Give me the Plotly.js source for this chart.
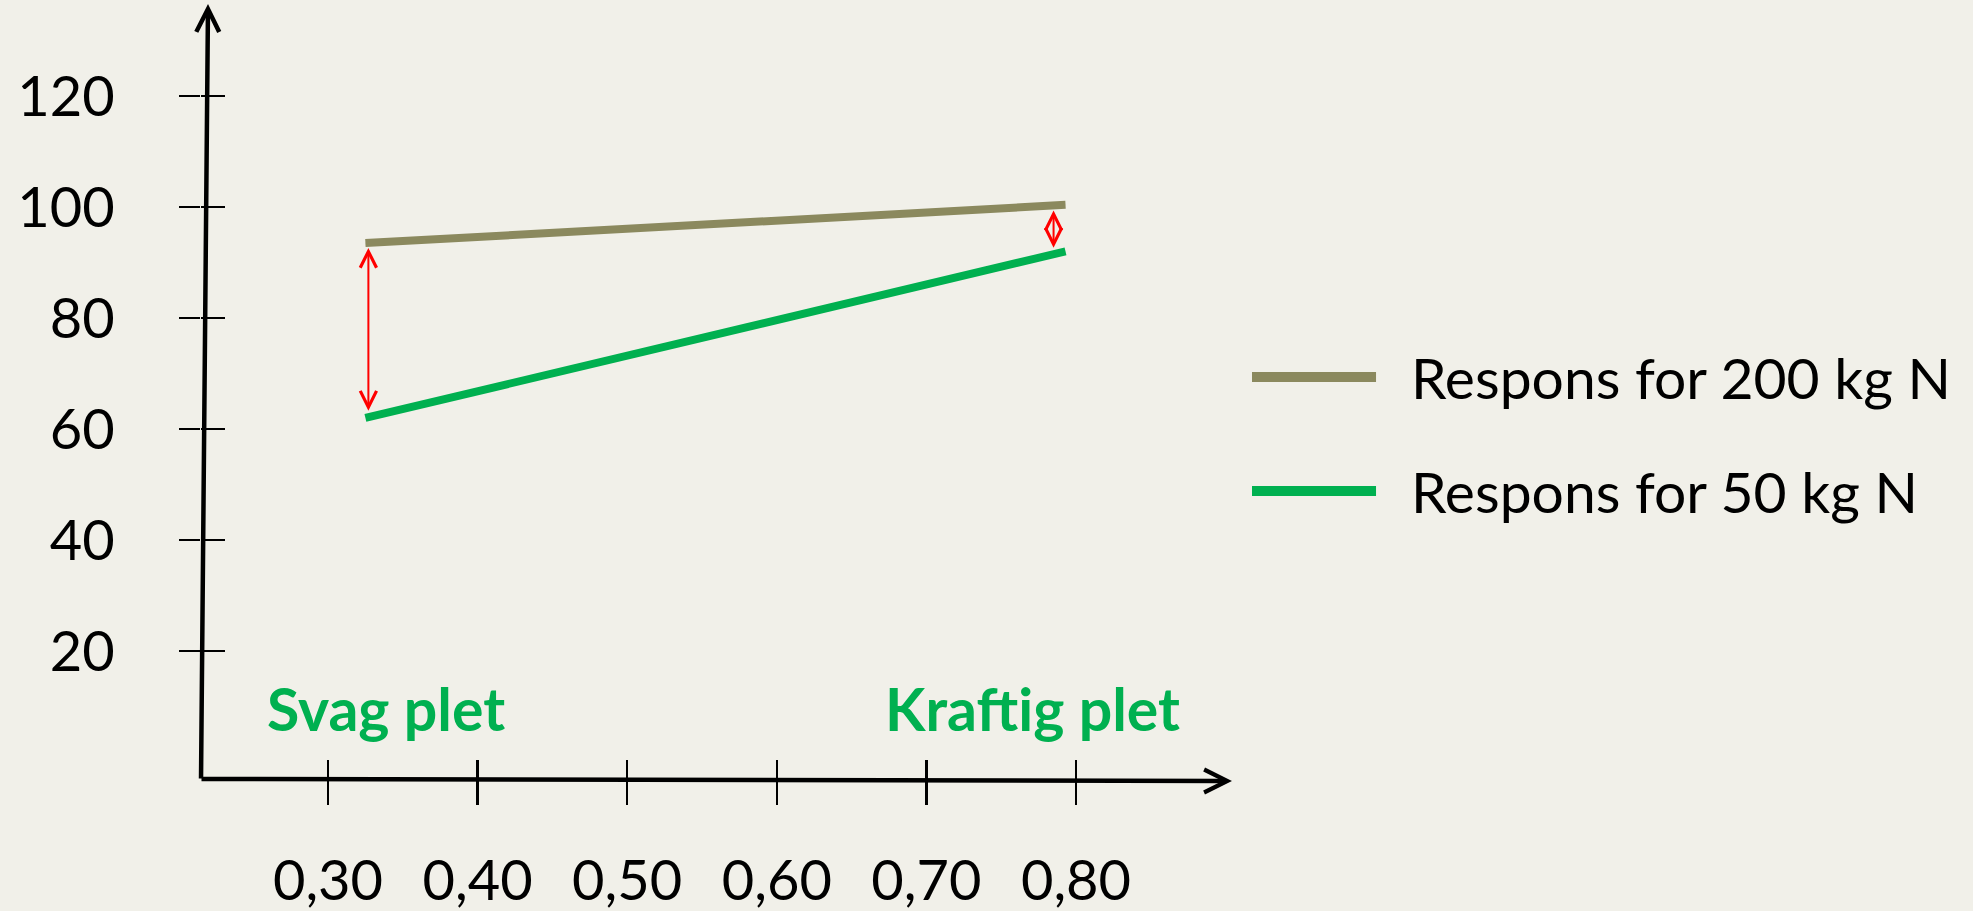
<!DOCTYPE html>
<html>
<head>
<meta charset="utf-8">
<script src="https://cdn.plot.ly/plotly-3.0.1.min.js"></script>
<style>html,body{margin:0;padding:0;background:#f1f0e9;}#chart{width:1973px;height:911px;}</style>
</head>
<body>
<div id="chart"></div>
<script>
const xTickVals = [0.30, 0.40, 0.50, 0.60, 0.70, 0.80];
const xTickText = ["0,30", "0,40", "0,50", "0,60", "0,70", "0,80"];
const yTickVals = [20, 40, 60, 80, 100, 120];
const yTickText = ["20", "40", "60", "80", "100", "120"];
const xPoints = [0.325, 0.793];
const resp200 = [93.5, 100.4];
const resp50 = [62, 92];
const seriesNames = ["Respons for 200 kg N", "Respons for 50 kg N"];
const seriesColors = ["#8b895e", "#00b050"];
const diffX = [0.327, 0.785];
const zoneLabels = ["Svag plet", "Kraftig plet"];
const zoneX = [0.339, 0.771];
const zoneY = [9.7, 9.7];

const bg = "#f1f0e9";
const FONT = "Lato, 'Open Sans', sans-serif";
const xRange = [0.21511, 0.90428];
const yRange = [-3.243, 136.58];

function interp(xs, ys, x) {
  return ys[0] + (ys[1] - ys[0]) * (x - xs[0]) / (xs[1] - xs[0]);
}

const traces = [
  {x: xPoints, y: resp200, type: "scatter", mode: "lines", name: seriesNames[0],
   line: {color: seriesColors[0], width: 8}, hoverinfo: "skip", showlegend: false},
  {x: xPoints, y: resp50, type: "scatter", mode: "lines", name: seriesNames[1],
   line: {color: seriesColors[1], width: 8}, hoverinfo: "skip", showlegend: false},
  {x: [], y: [], xaxis: "x2", yaxis: "y2", type: "scatter", mode: "lines", showlegend: false, hoverinfo: "skip"}
];

const annotations = [];
// axis arrows
annotations.push({xref: "paper", yref: "paper", x: 1, y: -0.0013, ax: -1032, ay: -2, text: "",
  showarrow: true, arrowhead: 5, arrowwidth: 4.5, arrowsize: 1, arrowcolor: "#000", standoff: 0});
annotations.push({xref: "paper", yref: "paper", x: 0.0068, y: 1, ax: -7, ay: 776, text: "",
  showarrow: true, arrowhead: 5, arrowwidth: 4.5, arrowsize: 1, arrowcolor: "#000", standoff: 0});
// difference arrows
diffX.forEach(function (dx) {
  const top = interp(xPoints, resp200, dx);
  const bot = interp(xPoints, resp50, dx);
  annotations.push({xref: "x", yref: "y", axref: "x", ayref: "y", x: dx, y: top, ax: dx, ay: bot, text: "",
    showarrow: true, arrowside: "end+start", arrowhead: 5, startarrowhead: 5, arrowwidth: 2,
    arrowsize: 1.6, startarrowsize: 1.6, arrowcolor: "#ff0000", standoff: 5, startstandoff: 5});
});
// zone labels
zoneLabels.forEach(function (t, i) {
  annotations.push({xref: "x", yref: "y", x: zoneX[i], y: zoneY[i], text: "<b>" + t + "</b>", showarrow: false,
    xanchor: "center", yanchor: "middle", font: {family: FONT, size: 59, color: "#00b050"}});
});

// legend
const shapes = [];
const legY = [0.5193, 0.3724];
seriesNames.forEach(function (n, i) {
  shapes.push({type: "line", xref: "paper", yref: "paper", x0: 1.0194, x1: 1.1397, y0: legY[i], y1: legY[i],
    line: {color: seriesColors[i], width: 10}});
  annotations.push({xref: "paper", yref: "paper", x: 1.1717, y: legY[i], text: n, showarrow: false,
    xanchor: "left", yanchor: "middle", font: {family: FONT, size: 57, color: "#000"}});
});

const layout = {
  width: 1973, height: 911, autosize: false,
  margin: {l: 201, r: 741, t: 4, b: 131, pad: 0},
  paper_bgcolor: bg, plot_bgcolor: bg,
  showlegend: false,
  font: {family: FONT, color: "#000"},
  xaxis: {range: xRange, tickmode: "array", tickvals: xTickVals, ticktext: xTickText,
    ticks: "outside", ticklen: 24, tickwidth: 2.5, tickcolor: "#000",
    showgrid: false, zeroline: false, showline: false, ticklabelstandoff: 28,
    tickfont: {family: FONT, size: 56, color: "#000"}, fixedrange: true},
  yaxis: {range: yRange, tickmode: "array", tickvals: yTickVals, ticktext: yTickText,
    ticks: "outside", ticklen: 21, tickwidth: 2.5, tickcolor: "#000",
    showgrid: false, zeroline: false, showline: false, ticklabelstandoff: 53,
    tickfont: {family: FONT, size: 56, color: "#000"}, fixedrange: true},
  xaxis2: {range: xRange, overlaying: "x", anchor: "y2", side: "bottom", tickmode: "array", tickvals: xTickVals,
    ticks: "inside", ticklen: 20, tickwidth: 2.5, tickcolor: "#000", showticklabels: false,
    showgrid: false, zeroline: false, showline: false, fixedrange: true},
  yaxis2: {range: yRange, overlaying: "y", anchor: "x2", side: "left", tickmode: "array", tickvals: yTickVals,
    ticks: "inside", ticklen: 24, tickwidth: 2.5, tickcolor: "#000", showticklabels: false,
    showgrid: false, zeroline: false, showline: false, fixedrange: true},
  shapes: shapes,
  annotations: annotations
};

Plotly.newPlot("chart", traces, layout, {displayModeBar: false, staticPlot: true});
</script>
</body>
</html>
